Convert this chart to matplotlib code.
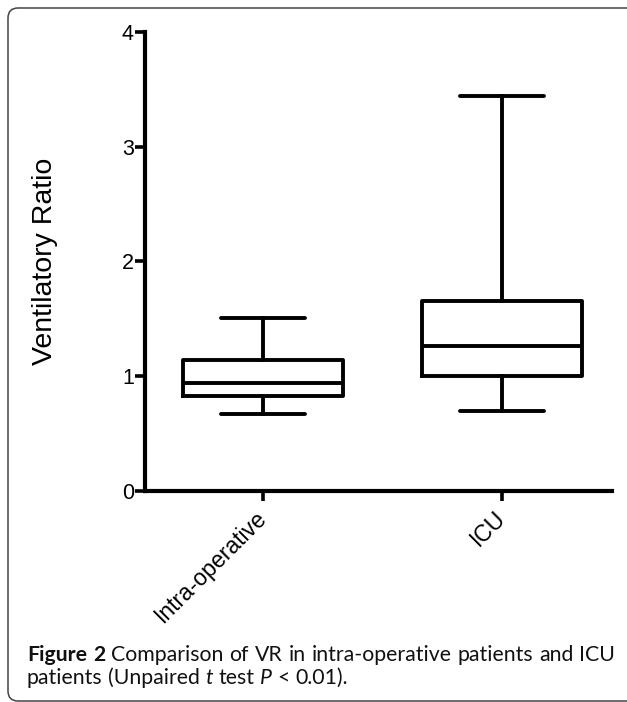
import matplotlib
matplotlib.use("Agg")
import matplotlib.pyplot as plt
from matplotlib.patches import FancyBboxPatch

# ---- data ----
categories = ["Intra-operative", "ICU"]
whisker_low = [0.67, 0.70]
q1 = [0.83, 1.00]
median = [0.94, 1.26]
q3 = [1.14, 1.66]
whisker_high = [1.51, 3.44]
y_ticks = [0, 1, 2, 3, 4]
y_label = "Ventilatory Ratio"

W, H, DPI = 627, 702, 100
fig = plt.figure(figsize=(W / DPI, H / DPI), dpi=DPI)

# axes placement in pixels
ax_left, ax_right, ax_top, ax_bottom = 145, 612, 32, 491
ax = fig.add_axes([ax_left / W, (H - ax_bottom) / H,
                   (ax_right - ax_left) / W, (ax_bottom - ax_top) / H])

stats = []
for i, c in enumerate(categories):
    stats.append(dict(label=c, whislo=whisker_low[i], q1=q1[i], med=median[i],
                      q3=q3[i], whishi=whisker_high[i], fliers=[]))

lw = 2.8
ax.bxp(stats, positions=[1, 2], widths=0.67, capwidths=0.35, showfliers=False,
       boxprops=dict(color="black", linewidth=lw, solid_joinstyle="round"),
       whiskerprops=dict(color="black", linewidth=lw),
       capprops=dict(color="black", linewidth=lw, solid_capstyle="round"),
       medianprops=dict(color="black", linewidth=lw))

ax.set_xlim(0.505, 2.46)
ax.set_ylim(0, 4)
ax.set_yticks(y_ticks)
ax.set_xticks([1, 2])
font = "Liberation Sans"
ax.set_yticklabels([str(t) for t in y_ticks], fontsize=15.5, family=font)
ax.set_xticklabels(categories, fontsize=16.5, family=font, rotation=45,
                   ha="right", va="center", rotation_mode="anchor")
for s in ["top", "right"]:
    ax.spines[s].set_visible(False)
for s in ["left", "bottom"]:
    ax.spines[s].set_linewidth(3.0)
    ax.spines[s].set_capstyle("projecting")
ax.tick_params(axis="both", length=7, width=2.6, pad=1)
ax.tick_params(axis="x", pad=10)
ax.set_ylabel(y_label, fontsize=20.5, family=font)
ax.yaxis.set_label_coords((58 - ax_left) / (ax_right - ax_left), 0.5)

# ---- frame ----
frame = FancyBboxPatch((8, 1), 660, H - 9, boxstyle="round,pad=0,rounding_size=10",
                       transform=None, fill=False, edgecolor="#444444", linewidth=1.1)
fig.add_artist(frame)

# ---- caption (justified first line) ----
cap_font = "Lato"
renderer = fig.canvas.get_renderer()


def measure(txt, size, **kw):
    t = fig.text(0, 0, txt, fontsize=size, family=cap_font, transform=None, **kw)
    w = t.get_window_extent(renderer).width
    t.remove()
    return w


line1 = [("Figure", "bold", "normal"), ("2", "bold", "normal"),
         ("Comparison", "normal", "normal"), ("of", "normal", "normal"),
         ("VR", "normal", "normal"), ("in", "normal", "normal"),
         ("intra-operative", "normal", "normal"), ("patients", "normal", "normal"),
         ("and", "normal", "normal"), ("ICU", "normal", "normal")]
line2 = [("patients", "normal", "normal"), ("(Unpaired", "normal", "normal"),
         ("t", "normal", "italic"), ("test", "normal", "normal"),
         ("P", "normal", "italic"), ("<", "normal", "normal"),
         ("0.01).", "normal", "normal")]

x0, x1 = 27, 615
b1, b2 = H - 661, H - 684
col = "#111111"

# choose a size so that line 1 with normal spaces nearly fills the width
ref = 10.0
sp_ref = measure("a a", ref) - measure("aa", ref)
nat = sum(measure(w, ref, fontweight=b, fontstyle=s) for w, b, s in line1) \
    + sp_ref * (len(line1) - 1)
cap_size = ref * (x1 - x0 - 6) / nat

widths1 = [measure(w, cap_size, fontweight=b, fontstyle=s) for w, b, s in line1]
gap1 = (x1 - x0 - sum(widths1)) / (len(line1) - 1)
x = x0
for (w, b, s), wd in zip(line1, widths1):
    fig.text(x, b1, w, fontsize=cap_size, family=cap_font, fontweight=b,
             fontstyle=s, transform=None, va="baseline", color=col)
    x += wd + gap1

space = measure("a a", cap_size) - measure("aa", cap_size)
widths2 = [measure(w, cap_size, fontweight=b, fontstyle=s) for w, b, s in line2]
x = x0
for (w, b, s), wd in zip(line2, widths2):
    fig.text(x, b2, w, fontsize=cap_size, family=cap_font, fontweight=b,
             fontstyle=s, transform=None, va="baseline", color=col)
    x += wd + space

fig.savefig("out.png", dpi=DPI)
